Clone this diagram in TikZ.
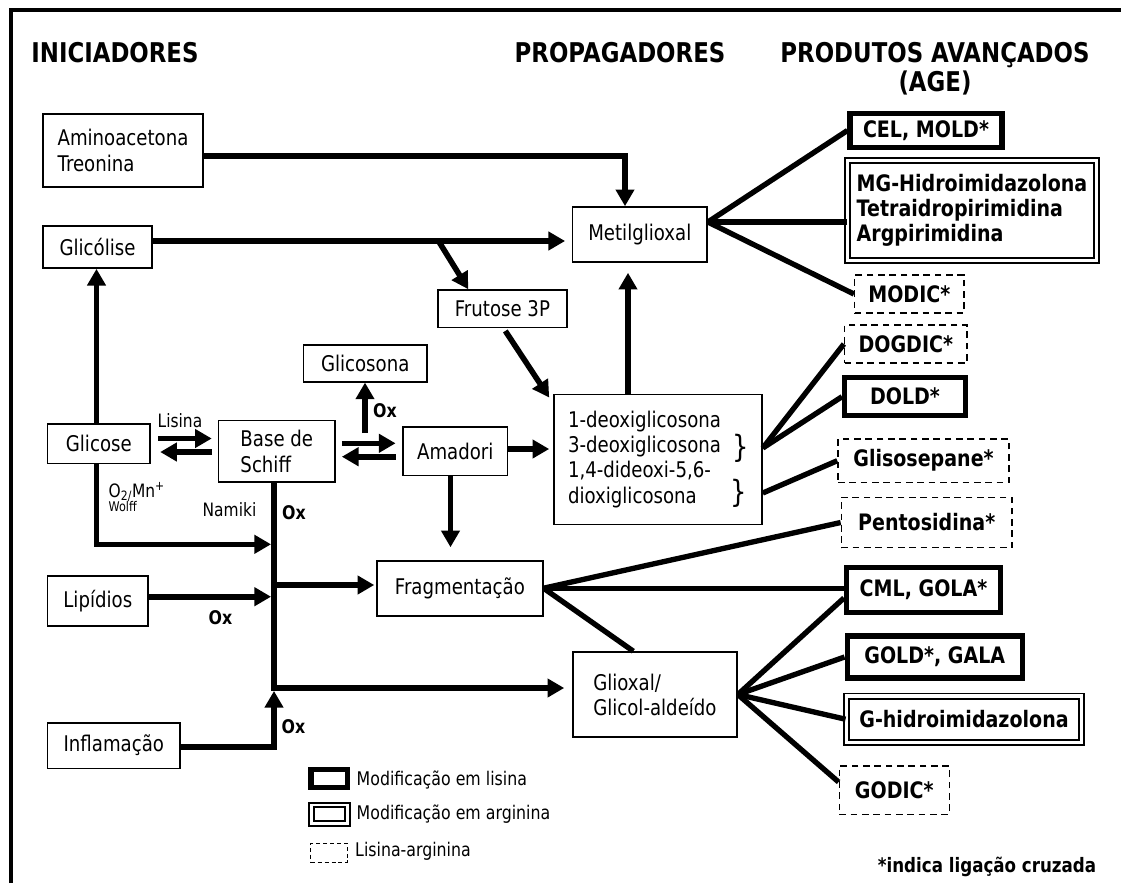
\documentclass[tikz,border=0pt]{standalone}
\usepackage{fontspec}
\setmainfont{DejaVu Sans}[FakeStretch=0.84]
\usetikzlibrary{arrows.meta}
\newcommand\txtf{\fontsize{16.2pt}{19.5pt}\selectfont}
\newcommand\prf{\fontsize{17pt}{18.8pt}\selectfont\bfseries}
\newcommand\hdrf{\fontsize{20.4pt}{22pt}\selectfont\bfseries}
\newcommand\smf{\fontsize{13.8pt}{15pt}\selectfont}
\newcommand\oxf{\fontsize{14.1pt}{15pt}\selectfont\bfseries}
\newcommand\legf{\fontsize{14.1pt}{15pt}\selectfont}
\begin{document}
\begin{tikzpicture}[x=0.75pt,y=-0.75pt,
  sz/.style 2 args={minimum width=#1*0.75pt, minimum height=#2*0.75pt},
  box/.style={draw, line width=1.2pt, inner sep=1pt, font=\txtf},
  lys/.style={draw, line width=4.1pt, inner sep=1pt, font=\prf},
  arg/.style={draw, double, line width=1.3pt, double distance=2.5pt, inner sep=1pt, font=\prf},
  dsh/.style={draw, line width=1.1pt, dash pattern=on 5pt off 3.5pt, inner sep=1pt, font=\prf},
  arr/.style={line width=4.2pt, -{Triangle[length=12.5pt,width=13.5pt]}},
  pl/.style={line width=4pt},
  oxl/.style={font=\oxf},
  lab/.style={font=\smf}]
\fill[white] (0,0) rectangle (1121,883);
\useasboundingbox (0,0) rectangle (1121,883);
% frame
\draw[line width=2.8pt] (10.7,883) -- (10.7,10) -- (1121,10);
% headers
\node[font=\hdrf] (h1) at (115,52.5) {INICIADORES};
\node[font=\hdrf] (h2) at (620,52.5) {PROPAGADORES};
\node[font=\hdrf, align=center] (h3) at (935,68.5) {PRODUTOS AVANÇADOS\\(AGE)};
% initiators and propagators
\node[box, sz={160}{73}, align=left] (amino) at (123,150.5) {Aminoacetona\\Treonina};
\node[box, sz={109}{42.3}] (glicolise) at (97.5,246.9) {Glicólise};
\node[box, sz={102.5}{39.3}] (glicose) at (98.8,443.7) {Glicose\hspace{10pt}};
\node[box, sz={116.5}{61.2}, align=left] (schiff) at (276.8,451.1) {Base de\\Schiff};
\node[box, sz={123.2}{36.7}] (glicosona) at (365.2,363.4) {Glicosona};
\node[box, sz={104.5}{48.8}] (amadori) at (455.3,451.1) {Amadori};
\node[box, sz={128.7}{37.3}] (frutose) at (502.4,308.7) {Frutose 3P};
\node[box, sz={134.5}{55}] (metil) at (639.8,234.5) {Metilglioxal};
\node[box, sz={208}{130}, align=left, text width=135pt, inner xsep=10.5pt,
      font=\fontsize{16.2pt}{19pt}\selectfont] (deoxi) at (658,459.3)
      {1-deoxiglicosona\\3-deoxiglicosona\\1,4-dideoxi-5,6-\\dioxiglicosona};
\node[font=\fontsize{23pt}{23pt}\selectfont] (brace1) at (740.5,448) {\}};
\node[font=\fontsize{23pt}{23pt}\selectfont] (brace2) at (739,493) {\}};
\node[box, sz={165.7}{55}] (frag) at (459.9,588.2) {Fragmentação};
\node[box, sz={164.3}{85}, align=left, font=\fontsize{16.2pt}{18.75pt}\selectfont] (glioxal) at (654.9,694.5) {Glioxal/\\Glicol-aldeído};
\node[box, sz={100.5}{49.7}] (lipidios) at (97.8,600.9) {Lipídios};
\node[box, sz={132.5}{45.6}] (inflam) at (113.8,745.5) {Inflamação};
% products
\node[lys, sz={151.7}{33.6}] (cel) at (926,130.5) {CEL, MOLD*};
\node[arg, sz={249.2}{100.2}, align=left] (mgh) at (972,210.5) {MG-Hidroimidazolona\\Tetraidropirimidina\\Argpirimidina};
\node[dsh, sz={109.4}{38}] (modic) at (909.3,294) {MODIC*};
\node[dsh, sz={122.4}{38}] (dogdic) at (905.8,344) {DOGDIC*};
\node[lys, sz={120.6}{37.9}] (dold) at (905,396.7) {DOLD*};
\node[dsh, sz={171}{43.3}] (glis) at (923.5,460.7) {Glisosepane*};
\node[dsh, sz={170.6}{50.4}] (pent) at (926.7,522.5) {Pentosidina*};
\node[lys, sz={153.6}{44.6}] (cml) at (923.5,590) {CML, GOLA*};
\node[lys, sz={175}{42}] (gold) at (934.8,657) {GOLD*, GALA};
\node[arg, sz={235.2}{46.2}] (ghid) at (964,719.2) {G-hidroimidazolona};
\node[dsh, sz={110}{48.3}] (godic) at (894.3,790.2) {GODIC*};
% arrows
\draw[arr] (amino.east |- 0,156) -- (625,156) -- (metil.north -| 625,0);
\draw[arr, shorten >=5pt] (glicolise.east |- 0,241) -- (metil.west |- 0,241);
\coordinate (brp) at (438.5,241);
\draw[arr] (brp) -- (frutose.north -| 468.3,0);
\draw[arr, shorten <=2.5pt] (frutose.south -| 503.5,0) -- ([xshift=-3pt,yshift=-3pt]deoxi.north west);
\draw[arr, shorten >=7.5pt] (deoxi.north -| 628,0) -- (metil.south -| 628,0);
\draw[arr, shorten >=3pt] (amadori.east |- 0,449) -- (deoxi.west |- 0,449);
\draw[arr, shorten >=9.5pt] (amadori.south -| 450.5,0) -- (frag.north -| 450.5,0);
\draw[arr, shorten <=5.5pt, shorten >=4.5pt] (glicose.east |- 0,438.5) -- (schiff.west |- 0,438.5);
\draw[arr, shorten <=4.5pt, shorten >=7pt] (schiff.west |- 0,452) -- (glicose.east |- 0,452);
\draw[arr, shorten <=4.5pt, shorten >=5pt] (schiff.east |- 0,443.3) -- (amadori.west |- 0,443.3);
\draw[arr, shorten <=5pt, shorten >=4.5pt] (amadori.west |- 0,456.7) -- (schiff.east |- 0,456.7);
\coordinate (gx) at (365,433);
\draw[arr] (gx) -- (glicosona.south -| gx);
\draw[arr] (glicose.north -| 96.5,0) -- (glicolise.south -| 96.5,0);
% trunk
\coordinate (tA) at (274,544.3);
\coordinate (tB) at (274,596.7);
\coordinate (tC) at (274,585);
\coordinate (tD) at (274,688);
\draw[arr, shorten >=5.8pt] (schiff.south -| tD) -- (tD) -- (glioxal.west |- tD);
\draw[arr, shorten >=1.5pt] (tC) -- (frag.west |- tC);
\draw[arr, shorten >=2.2pt] (glicose.south -| 96.5,0) |- (tA);
\draw[arr, shorten >=2.2pt] (lipidios.east |- tB) -- (tB);
\draw[arr, shorten >=2.2pt] (inflam.east |- 0,746.7) -| (tD);
% product connectors
\coordinate (mgo) at (metil.east |- 0,222);
\draw[pl] (mgo) -- (cel.west);
\draw[pl] (mgo) -- (mgh.west |- mgo);
\draw[pl] (mgo) -- (modic.west);
\coordinate (dx1) at (deoxi.east |- 0,448);
\coordinate (dx2) at (deoxi.east |- 0,493);
\draw[pl] (dx1) -- (dogdic.west);
\draw[pl] (dx1) -- (dold.west);
\draw[pl] (dx2) -- (glis.west);
\draw[pl] (frag.east) -- (pent.west);
\draw[pl] (frag.east) -- (frag.east -| cml.west);
\draw[pl] (frag.east) -- (glioxal.north -| 633.3,0);
\draw[pl] (glioxal.east) -- (cml.west |- 0,598);
\draw[pl] (glioxal.east) -- (gold.west);
\draw[pl] (glioxal.east) -- (ghid.west);
\draw[pl] (glioxal.east) -- (godic.west |- 0,782);
% labels
\node[lab] (lis) at (180,420.7) {Lisina};
\node[oxl] (ox1) at (385,411) {Ox};
\node[lab, anchor=west] (o2) at (104,491.7) {O\textsubscript{2/}Mn\textsuperscript{+}};
\node[font=\fontsize{10pt}{10pt}\selectfont, anchor=west] (wolff) at (104,507) {Wolff};
\node[lab] (namiki) at (229.5,510) {Namiki};
\node[oxl] (ox2) at (294,513) {Ox};
\node[oxl] (ox3) at (220.5,618) {Ox};
\node[oxl] (ox4) at (293.5,726.7) {Ox};
% legend
\node[draw, line width=4.2pt, sz={36.6}{17.9}] (leg1) at (329,778.4) {};
\node[font=\legf, anchor=west] (leg1t) at (352,780) {Modificação em lisina};
\node[draw, double, line width=1.5pt, double distance=1.8pt, sz={36.2}{18.2}] (leg2) at (329.5,814.2) {};
\node[font=\legf, anchor=west] (leg2t) at (352,814.3) {Modificação em arginina};
\node[draw, line width=0.8pt, dash pattern=on 3pt off 2.2pt, sz={36.8}{19}] (leg3) at (329.1,852.8) {};
\node[font=\legf, anchor=west] (leg3t) at (350.5,851.7) {Lisina-arginina};
\node[font=\fontsize{14.9pt}{16pt}\selectfont\bfseries] (nota) at (987,866.7) {*indica ligação cruzada};
\end{tikzpicture}
\end{document}
